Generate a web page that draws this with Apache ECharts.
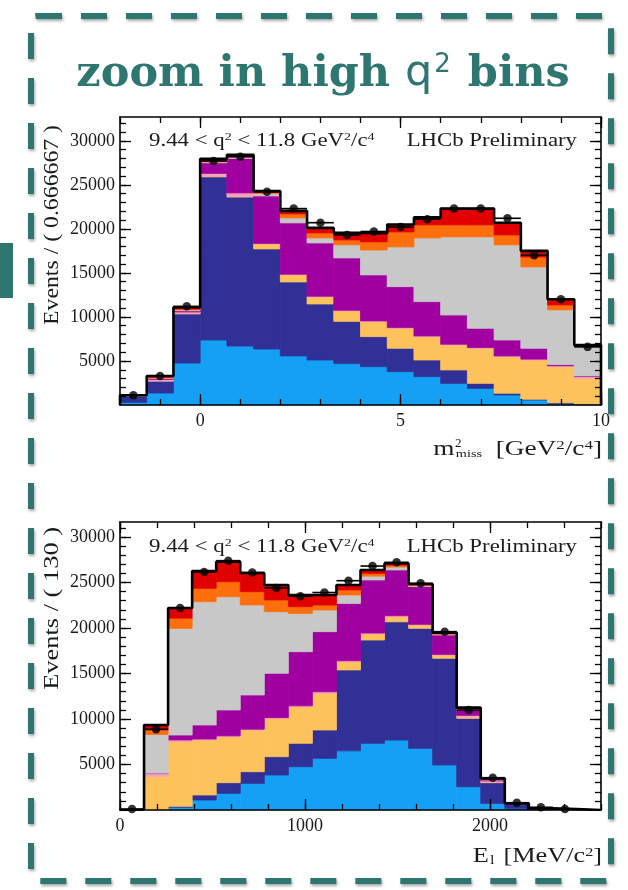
<!DOCTYPE html>
<html><head><meta charset="utf-8">
<script src="https://cdn.jsdelivr.net/npm/echarts@6/dist/echarts.min.js"></script>
<style>html,body{margin:0;padding:0;background:#fff}#c{width:628px;height:890px}</style>
</head><body><div id="c"></div>
<script>
// ---------------- TOP PANEL: m2_miss ----------------
const mmissEdges = [-2, -1.3333, -0.6667, 0, 0.6667, 1.3333, 2, 2.6667, 3.3333, 4, 4.6667, 5.3333, 6, 6.6667, 7.3333, 8, 8.6667, 9.3333, 10];
const mmissLightBlue = [300,1360,4770,7380,6700,6360,5570,5110,4700,4360,3790,3220,2460,1890,1140,570,150,50];
const mmissDarkBlue  = [700,1340,5570,18520,16930,11360,8400,6360,4800,3400,2650,1890,1520,570,190,80,100,50];
const mmissYellow    = [0,0,60,50,20,570,800,800,1180,1710,2270,2650,2840,3980,4160,4460,4110,2930];
const mmissPink      = [0,200,170,350,430,60,80,80,70,80,80,80,80,80,80,100,100,200];
const mmissMagenta   = [0,100,130,1200,3920,5390,5830,6050,5950,5220,4650,3900,3320,2190,1810,1230,140,70];
const mmissGrey      = [50,50,100,100,100,260,560,570,1480,2830,4510,7230,8870,10380,10800,9240,6200,3300];
const mmissOrange    = [20,100,100,150,150,150,460,570,560,920,1700,1480,1360,1360,1130,1130,560,100];
const mmissRed       = [30,150,200,200,150,150,340,570,800,980,850,850,1850,1850,1390,690,640,100];
const mmissData      = [1100,3300,11200,27700,28200,24200,22300,20700,19300,19700,20200,21100,22300,22300,21200,17000,12000,6600];
const mmissXTicks = [0, 5, 10];
const mmissXMinorTicks = [-2,-1,0,1,2,3,4,5,6,7,8,9,10];
const mmissYTicks = [5000, 10000, 15000, 20000, 25000, 30000];
const mmissYMinorTicks = [1000,2000,3000,4000,5000,6000,7000,8000,9000,10000,11000,12000,13000,14000,15000,16000,17000,18000,19000,20000,21000,22000,23000,24000,25000,26000,27000,28000,29000,30000,31000,32000];

// ---------------- BOTTOM PANEL: E_l ----------------
const elEdges = [0,130,260,390,520,650,780,910,1040,1170,1300,1430,1560,1690,1820,1950,2080,2210,2340,2470,2600];
const elLightBlue = [50,0,300,1100,1830,2930,3850,4760,5680,6500,7330,7690,6780,4950,2560,730,180,50,0,0];
const elDarkBlue  = [0,0,100,550,1170,1280,2010,2570,3110,8890,11350,12990,13180,11720,7510,2270,480,100,0,0];
const elYellow    = [0,3700,7110,6040,5060,4580,4210,4030,4030,910,660,560,370,360,130,50,0,0,0,0];
const elPink      = [0,300,190,110,90,90,80,90,180,100,110,110,70,70,200,150,20,0,0,0];
const elMagenta   = [0,50,540,1540,2840,3760,4870,5950,6600,6300,5830,5030,4150,2130,590,100,20,0,0,0];
const elGrey      = [0,4250,11720,13550,12450,9890,6770,4200,2380,930,420,320,100,70,60,50,10,20,50,0];
const elOrange    = [0,500,1120,1470,1650,1460,1290,740,550,550,300,200,100,100,100,50,10,15,25,0];
const elRed       = [0,540,1120,1910,2200,2060,1650,1290,1100,550,380,210,90,90,100,80,10,15,25,0];
const elData      = [100,8870,22200,26160,27400,26100,24400,23500,23900,25200,26810,27220,24910,19600,10990,3550,800,300,100,null];
const elXTicks = [0, 1000, 2000];
const elXMinorTicks = [0,200,400,600,800,1000,1200,1400,1600,1800,2000,2200,2400,2600];
const elYTicks = [5000, 10000, 15000, 20000, 25000, 30000];
const elYMinorTicks = [1000,2000,3000,4000,5000,6000,7000,8000,9000,10000,11000,12000,13000,14000,15000,16000,17000,18000,19000,20000,21000,22000,23000,24000,25000,26000,27000,28000,29000,30000,31000];

const compColors = ['#14a0f4', '#303096', '#fec25c', '#f4a2b8', '#a000a0', '#c8c8c8', '#ff6e0c', '#e00000'];
const compNames = ['c1','c2','c3','c4','c5','c6','c7','c8'];

const FONT = 'Liberation Serif';

function rectRender(params, api) {
  const x0 = api.value(0), x1 = api.value(1), b = api.value(2), t = api.value(3);
  if (!(t > b)) return null;
  const p0 = api.coord([x0, t]), p1 = api.coord([x1, b]);
  const c = api.visual('color');
  return { type: 'rect', shape: { x: p0[0], y: p0[1], width: p1[0] - p0[0], height: p1[1] - p0[1] },
           style: { fill: c, stroke: c, lineWidth: 0.8 } };
}
function errRender(params, api) {
  const x0 = api.value(0), x1 = api.value(1), v = api.value(2);
  const a = api.coord([x0, v]), c = api.coord([x1, v]);
  return { type: 'line', shape: { x1: a[0], y1: a[1], x2: c[0], y2: c[1] },
           style: { stroke: '#000', lineWidth: 1.6 } };
}

function panel(gi, edges, comps, data, xMin, xMax, yMax, xT, xMT, yT, yMT) {
  const xa = [], ya = [], series = [];
  const base = gi * 4;
  const lineStyle = { color: '#000', width: 1.6 };
  const tickStyle = { color: '#000', width: 1.3 };
  const mk = (pos, ticks, len, labels, line) => ({
    type: 'value', gridIndex: gi, position: pos, min: 0, max: 1, z: 10,
    axisLine: { show: line, onZero: false, lineStyle },
    axisTick: { show: true, inside: true, length: len, customValues: ticks, lineStyle: tickStyle },
    axisLabel: labels ? { show: true, customValues: labels, formatter: v => String(v), fontFamily: FONT, fontSize: 18, color: '#1a1a1a', margin: 7 }
                      : { show: false, customValues: ticks },
    splitLine: { show: false }, minorTick: { show: false }
  });
  [['bottom', xT, 11, xT, true], ['bottom', xMT, 6, null, false], ['top', xT, 11, null, true], ['top', xMT, 6, null, false]]
    .forEach(a => { const o = mk(a[0], a[1], a[2], a[3], a[4]); o.min = xMin; o.max = xMax; xa.push(o); });
  [['left', yT, 11, yT, true], ['left', yMT, 6, null, false], ['right', yT, 11, null, true], ['right', yMT, 6, null, false]]
    .forEach(a => { const o = mk(a[0], a[1], a[2], a[3], a[4]); o.min = 0; o.max = yMax; if (a[3]) o.axisLabel.margin = 5; ya.push(o); });

  const n = edges.length - 1;
  const cum = new Array(n).fill(0);
  comps.forEach((vals, ci) => {
    const d = [];
    for (let i = 0; i < n; i++) { d.push([edges[i], edges[i + 1], cum[i], cum[i] + vals[i]]); cum[i] += vals[i]; }
    series.push({ type: 'custom', name: compNames[ci], xAxisIndex: base, yAxisIndex: base, renderItem: rectRender,
      encode: { x: [0, 1], y: [2, 3] }, itemStyle: { color: compColors[ci] }, data: d, silent: true, z: 2 });
  });
  const outline = [[edges[0], 0]];
  for (let i = 0; i < n; i++) outline.push([edges[i], cum[i]]);
  outline.push([edges[n], 0]);
  series.push({ type: 'line', xAxisIndex: base, yAxisIndex: base, step: 'end', data: outline, symbol: 'none',
    lineStyle: { color: '#000', width: 2.6 }, z: 3, silent: true });
  const pts = [], errs = [];
  for (let i = 0; i < n; i++) if (data[i] != null) {
    pts.push([(edges[i] + edges[i + 1]) / 2, data[i]]);
    errs.push([edges[i], edges[i + 1], data[i]]);
  }
  series.push({ type: 'custom', xAxisIndex: base, yAxisIndex: base, renderItem: errRender, encode: { x: [0, 1], y: 2 }, data: errs, z: 4, silent: true });
  series.push({ type: 'scatter', xAxisIndex: base, yAxisIndex: base, data: pts, symbol: 'circle', symbolSize: 8.5,
    itemStyle: { color: '#000' }, z: 5, silent: true });
  return { xa, ya, series };
}

const topP = panel(0, mmissEdges,
  [mmissLightBlue, mmissDarkBlue, mmissYellow, mmissPink, mmissMagenta, mmissGrey, mmissOrange, mmissRed],
  mmissData, -2, 10, 32700, mmissXTicks, mmissXMinorTicks, mmissYTicks, mmissYMinorTicks);
const botP = panel(1, elEdges,
  [elLightBlue, elDarkBlue, elYellow, elPink, elMagenta, elGrey, elOrange, elRed],
  elData, 0, 2600, 31650, elXTicks, elXMinorTicks, elYTicks, elYMinorTicks);

const TEAL = '#2e7670';
const txt = '#1c1c1c';
const annRich = { a: { fontFamily: FONT, fontSize: 18, fill: txt }, s: { fontFamily: FONT, fontSize: 11, fill: txt, verticalAlign: 'top', padding: [0, 0, 8, 0] } };
const graphic = [
  { type: 'rect', left: 0, top: 243, shape: { width: 13, height: 55 }, style: { fill: TEAL } },
  { type: 'rect', shape: { x: 31, y: 16, width: 580, height: 865, r: 5 },
    style: { fill: 'none', stroke: TEAL, lineWidth: 6, lineDash: [26, 19], shadowBlur: 3, shadowColor: 'rgba(0,0,0,0.35)', shadowOffsetX: 1, shadowOffsetY: 2 } },
  { type: 'text', x: 323, y: 96, style: {
      text: '{t|zoom in high }{q|q}{s|2}{t| bins}', align: 'center', verticalAlign: 'bottom',
      rich: { t: { fontFamily: 'DejaVu Serif', fontWeight: 'bold', fontSize: 43, fill: TEAL, verticalAlign: 'bottom' },
              q: { fontFamily: 'DejaVu Sans', fontWeight: 'normal', fontSize: 43, fill: TEAL },
              s: { fontFamily: 'DejaVu Sans', fontSize: 26, fill: TEAL, verticalAlign: 'top', padding: [0, 2, 18, 2] } } } },
  { type: 'text', x: 149, y: 141, scaleX: 1.27, style: { text: '{a|9.44 < q}{s|2}{a| < 11.8 GeV}{s|2}{a|/c}{s|4}', verticalAlign: 'middle', rich: annRich } },
  { type: 'text', x: 577, y: 141, scaleX: 1.2, style: { text: 'LHCb Preliminary', align: 'right', verticalAlign: 'middle', fontFamily: FONT, fontSize: 19, fill: txt } },
  { type: 'text', x: 149, y: 547, scaleX: 1.27, style: { text: '{a|9.44 < q}{s|2}{a| < 11.8 GeV}{s|2}{a|/c}{s|4}', verticalAlign: 'middle', rich: annRich } },
  { type: 'text', x: 577, y: 547, scaleX: 1.2, style: { text: 'LHCb Preliminary', align: 'right', verticalAlign: 'middle', fontFamily: FONT, fontSize: 19, fill: txt } },
  { type: 'text', x: 52, y: 125, rotation: Math.PI / 2, scaleX: 1.08, style: { text: 'Events / ( 0.666667 )', align: 'right', verticalAlign: 'middle', fontFamily: FONT, fontSize: 22, fill: txt } },
  { type: 'text', x: 52, y: 527, rotation: Math.PI / 2, scaleX: 1.2, style: { text: 'Events / ( 130 )', align: 'right', verticalAlign: 'middle', fontFamily: FONT, fontSize: 22, fill: txt } },
  { type: 'text', x: 602, y: 460, scaleX: 1.3, style: {
      text: '{a|m}{b|miss}{a|  [GeV}{s|2}{a|/c}{s|4}{a|]}', align: 'right', verticalAlign: 'bottom',
      rich: { a: { fontFamily: FONT, fontSize: 21, fill: txt, verticalAlign: 'bottom' },
              b: { fontFamily: FONT, fontSize: 11, fill: txt, verticalAlign: 'bottom', padding: [0, 0, 0, 1] },
              s: { fontFamily: FONT, fontSize: 13, fill: txt, verticalAlign: 'top', padding: [0, 0, 8, 0] } } } },
  { type: 'text', x: 455, y: 450, style: { text: '2', verticalAlign: 'bottom', fontFamily: FONT, fontSize: 13, fill: txt } },
  { type: 'text', x: 602, y: 867, scaleX: 1.25, style: {
      text: '{a|E}{b|l}{a| [MeV/c}{s|2}{a|]}', align: 'right', verticalAlign: 'bottom',
      rich: { a: { fontFamily: FONT, fontSize: 21, fill: txt, verticalAlign: 'bottom' },
              b: { fontFamily: FONT, fontSize: 13, fill: txt, verticalAlign: 'bottom', padding: [0, 2, 0, 1] },
              s: { fontFamily: FONT, fontSize: 13, fill: txt, verticalAlign: 'top', padding: [0, 0, 8, 0] } } } }
];

const option = {
  animation: false,
  backgroundColor: '#fff',
  grid: [
    { left: 120, top: 117, width: 481, height: 288, show: false, containLabel: false },
    { left: 120, top: 522, width: 481, height: 288, show: false, containLabel: false }
  ],
  xAxis: topP.xa.concat(botP.xa),
  yAxis: topP.ya.concat(botP.ya),
  series: topP.series.concat(botP.series),
  graphic: graphic
};
const chart = echarts.init(document.getElementById('c'), null, { renderer: 'canvas' });
chart.setOption(option);
</script></body></html>
